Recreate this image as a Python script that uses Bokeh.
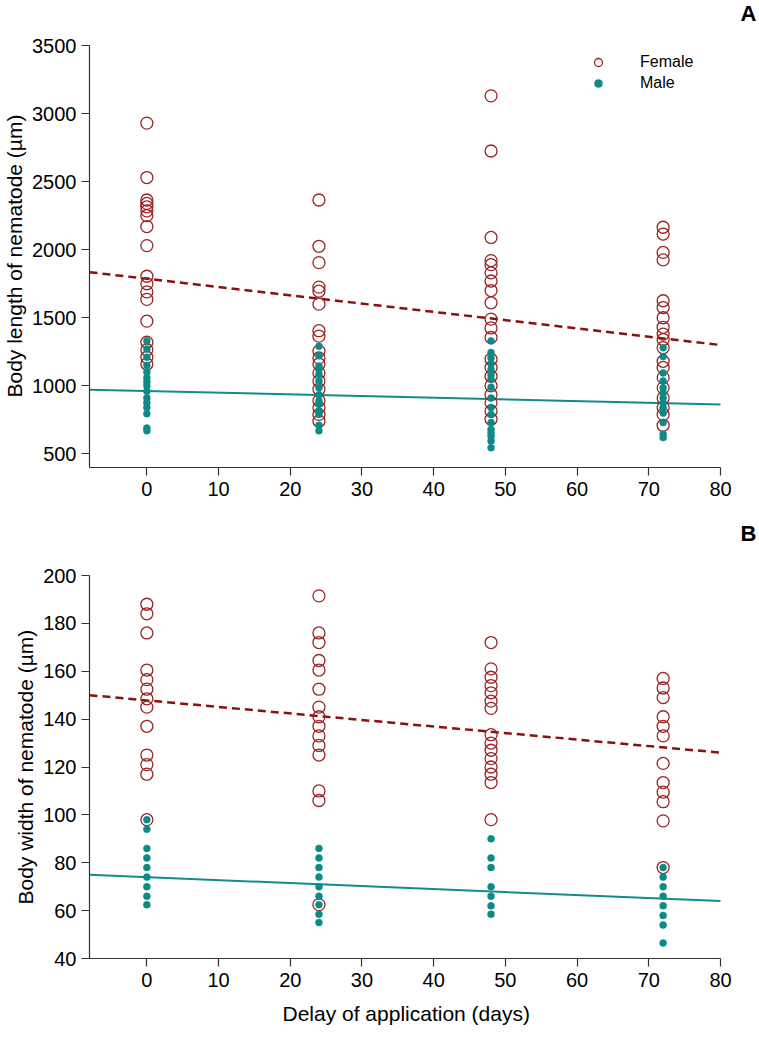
from bokeh.plotting import figure
from bokeh.layouts import column
from bokeh.models import Label, Legend, LegendItem, FixedTicker, Range1d, ColumnDataSource, Title
from bokeh.embed import file_html
from bokeh.resources import INLINE

# ---------------- data ----------------
days = [0, 24, 48, 72]
x_ticks = [0, 10, 20, 30, 40, 50, 60, 70, 80]
len_ticks = [500, 1000, 1500, 2000, 2500, 3000, 3500]
wid_ticks = [40, 60, 80, 100, 120, 140, 160, 180, 200]

# Body length (µm), panel A
female_len_0 = [2930, 2530, 2365, 2340, 2315, 2285, 2250, 2170, 2030, 1805, 1750, 1690, 1635, 1475, 1320, 1265, 1210, 1160]
female_len_24 = [2365, 2025, 1905, 1725, 1695, 1600, 1405, 1365, 1255, 1205, 1160, 1095, 1035, 975, 890, 840, 790, 740]
female_len_48 = [3130, 2725, 2090, 1920, 1890, 1830, 1770, 1700, 1610, 1490, 1425, 1355, 1195, 1135, 1070, 1000, 935, 875, 815, 755]
female_len_72 = [2165, 2115, 1980, 1925, 1625, 1575, 1500, 1430, 1380, 1340, 1280, 1180, 1135, 1060, 985, 910, 840, 790, 710]
male_len_0 = [1330, 1270, 1210, 1150, 1100, 1060, 1030, 1000, 960, 910, 875, 840, 795, 690, 670]
male_len_24 = [1290, 1220, 1145, 1120, 1085, 1035, 985, 935, 890, 865, 815, 790, 710, 670]
male_len_48 = [1330, 1245, 1205, 1160, 1120, 1080, 1050, 990, 910, 840, 790, 730, 680, 655, 630, 595, 545]
male_len_72 = [1280, 1215, 1095, 1035, 985, 950, 910, 875, 840, 800, 730, 645, 620]

# Body width (µm), panel B
female_wid_0 = [188, 184, 176, 160.5, 156.5, 152.5, 148.5, 145, 137, 125, 121, 117, 98]
female_wid_24 = [191.5, 176, 172, 164.5, 160.5, 152.5, 145, 141, 137, 133, 129, 125, 110, 106, 62.5]
female_wid_48 = [172, 161, 157.5, 154, 151, 147.5, 144.5, 133.5, 130, 127, 123.5, 120, 117, 113.5, 98]
female_wid_72 = [157, 153, 149, 141, 137, 133, 121.5, 113.5, 109.5, 105.5, 97.5, 78]
male_wid_0 = [98, 94, 86, 82, 78, 74, 70, 66, 62.5]
male_wid_24 = [86, 82, 78, 74, 70, 66, 62.5, 58.5, 55]
male_wid_48 = [90, 82, 78, 70, 66, 62, 58.5]
male_wid_72 = [78, 74, 70, 66, 62, 58, 54, 46.5]

# Regression lines (endpoints at the x-axis limits)
fit_x = [-8, 80]
fit_len_female = [1835, 1300]
fit_len_male = [972, 863]
fit_wid_female = [150, 126]
fit_wid_male = [75, 64]

FEM = "#9a2424"
FEM_LINE = "#8b1010"
MAL = "#0c8a87"
MAL_LINE = "#118c8c"
FONT = "Liberation Sans"

X_AXIS = (-8, 80)
PX_PER_X = 631 / (X_AXIS[1] - X_AXIS[0])
RIGHT_PAD = 39          # px of frame kept to the right of x = 80 (for the panel letter)


def flatten(groups):
    xs, ys = [], []
    for d, vals in zip(days, groups):
        xs += [d] * len(vals)
        ys += list(vals)
    return ColumnDataSource(dict(x=xs, y=ys))


def style(p, yticks, ybounds):
    p.xgrid.visible = False
    p.ygrid.visible = False
    p.outline_line_color = None
    p.xaxis.ticker = FixedTicker(ticks=x_ticks)
    p.yaxis.ticker = FixedTicker(ticks=yticks)
    p.xaxis.bounds = X_AXIS
    p.yaxis.bounds = ybounds
    for ax in (p.xaxis[0], p.yaxis[0]):
        ax.axis_line_color = "#333333"
        ax.axis_line_width = 1.2
        ax.major_tick_line_color = "#333333"
        ax.major_tick_line_width = 1.2
        ax.minor_tick_line_color = None
        ax.major_tick_out = 8
        ax.major_tick_in = 0
        ax.major_label_text_font = FONT
        ax.major_label_text_font_size = "20px"
        ax.major_label_text_color = "black"
    p.yaxis.major_label_standoff = 5
    p.xaxis.major_label_standoff = 6


def panel(fem_groups, mal_groups, ffit, mfit, ybounds, yticks, ylabel, ylabel_offset, letter,
          xlabel=None, top_pad=45, axis_h=422, bottom=53, legend=False):
    # the frame also covers the top and right margins so the panel letter can sit there
    units_per_px = (ybounds[1] - ybounds[0]) / axis_h
    ytop = ybounds[1] + top_pad * units_per_px
    xright = X_AXIS[1] + RIGHT_PAD / PX_PER_X
    p = figure(frame_width=631 + RIGHT_PAD, frame_height=axis_h + top_pad,
               x_range=Range1d(X_AXIS[0], xright), y_range=Range1d(ybounds[0], ytop),
               min_border_left=89, min_border_right=0, min_border_top=0, min_border_bottom=bottom,
               toolbar_location=None, output_backend="svg")
    style(p, yticks, ybounds)
    p.line(fit_x, ffit, line_color=FEM_LINE, line_width=2.5, line_dash="8 5")
    p.line(fit_x, mfit, line_color=MAL_LINE, line_width=2)
    rf = p.scatter("x", "y", source=flatten(fem_groups), marker="circle", size=12,
                   fill_color=None, line_color=FEM, line_width=1.3)
    rm = p.scatter("x", "y", source=flatten(mal_groups), marker="circle", size=7,
                   fill_color=MAL, line_color=MAL, line_width=0.5)
    if legend:
        lg = Legend(items=[LegendItem(label="Female", renderers=[rf]),
                           LegendItem(label="Male", renderers=[rm])],
                    location=(499, 374), padding=0, margin=0, spacing=1,
                    glyph_width=20, glyph_height=20, label_height=20, label_standoff=32,
                    border_line_color=None, background_fill_alpha=0,
                    label_text_font=FONT, label_text_font_size="16px",
                    label_text_color="black")
        p.add_layout(lg)
    # axis titles, centred on the drawn axis extent rather than on the (padded) frame
    p.add_layout(Title(text=ylabel, align="left", offset=ylabel_offset, vertical_align="top",
                       standoff=4, text_font=FONT, text_font_size="21px",
                       text_font_style="normal", text_color="black"), "left")
    if xlabel:
        p.add_layout(Title(text=xlabel, align="left", offset=193, vertical_align="bottom",
                           standoff=20, text_font=FONT, text_font_size="21px",
                           text_font_style="normal", text_color="black"), "below")
    # letter: 28 px right of x = 80, 13 px below the figure top
    p.add_layout(Label(x=X_AXIS[1] + 28 / PX_PER_X, y=ytop - 13 * units_per_px, text=letter,
                       text_align="center", text_baseline="middle", text_font=FONT,
                       text_font_style="bold", text_font_size="22px", text_color="black"))
    return p


pA = panel([female_len_0, female_len_24, female_len_48, female_len_72],
           [male_len_0, male_len_24, male_len_48, male_len_72],
           fit_len_female, fit_len_male, (400, 3500), len_ticks,
           "Body length of nematode (µm)", 70, "A", legend=True)
pB = panel([female_wid_0, female_wid_24, female_wid_48, female_wid_72],
           [male_wid_0, male_wid_24, male_wid_48, male_wid_72],
           fit_wid_female, fit_wid_male, (40, 200), wid_ticks,
           "Body width of nematode (µm)", 54, "B", xlabel="Delay of application (days)",
           top_pad=55, axis_h=383, bottom=80)

layout = column(pA, pB, spacing=0)
open("out.html", "w").write(file_html(layout, INLINE))
